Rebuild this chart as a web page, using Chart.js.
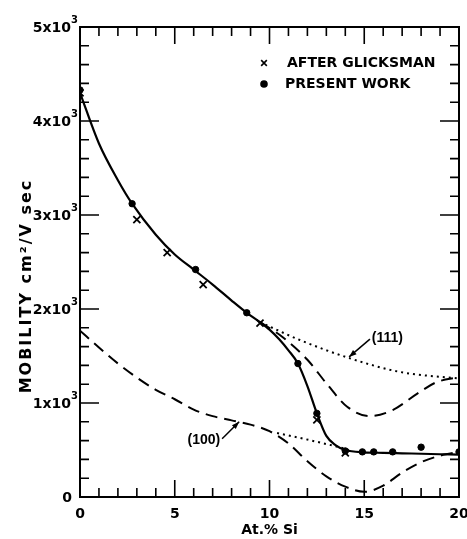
<!DOCTYPE html>
<html>
<head>
<meta charset="utf-8">
<script src="https://cdn.jsdelivr.net/npm/chart.js@4.4.1/dist/chart.umd.min.js"></script>
<style>
  html, body { margin: 0; padding: 0; background: #fff; }
  #wrap { width: 467px; height: 539px; }
</style>
</head>
<body>
<div id="wrap"><canvas id="chart" width="467" height="539"></canvas></div>
<script>
// Dados (At.% Si vs mobilidade)
const glicksmanX = [0, 3.0, 4.6, 6.5, 9.5, 12.5, 14.0];
const glicksmanY = [4300, 2950, 2600, 2260, 1850, 820, 470];

const presenteX = [0, 2.75, 6.1, 8.8, 11.5, 12.5, 14.0, 14.9, 15.5, 16.5, 18.0, 20];
const presenteY = [4330, 3120, 2420, 1960, 1420, 890, 490, 480, 480, 480, 530, 480];

// curva cheia (ajuste)
const ajusteX = [0, 1, 2, 2.75, 4, 5, 6, 7, 8, 8.8, 9.5, 10, 10.5, 11, 11.5, 12, 12.5, 13, 13.5, 14, 15, 16, 17, 18, 19, 20];
const ajusteY = [4300, 3760, 3370, 3120, 2790, 2580, 2420, 2260, 2090, 1960, 1860, 1780, 1680, 1560, 1420, 1180, 890, 650, 550, 500, 475, 470, 465, 460, 455, 450];

// (111) tracejada e pontilhada
const tracejada111X = [9.5, 10.7, 12.0, 13.0, 14.1, 15.3, 16.5, 17.8, 18.8, 20];
const tracejada111Y = [1860, 1700, 1460, 1210, 960, 860, 925, 1100, 1220, 1275];
const pontilhada111X = [9.5, 11.6, 14.25, 16.9, 20];
const pontilhada111Y = [1860, 1670, 1475, 1330, 1260];

// (100) tracejada e pontilhada
const tracejada100X = [0, 1, 2, 3, 4, 5, 6, 7, 8, 9, 10, 11, 12, 13, 14, 15, 16, 17, 18, 19, 20];
const tracejada100Y = [1770, 1590, 1420, 1270, 1140, 1040, 930, 860, 815, 770, 700, 570, 380, 220, 110, 55, 120, 260, 370, 440, 480];
const pontilhada100X = [10.4, 12.1, 13.9];
const pontilhada100Y = [680, 606, 520];

const yTicks = [0, 1000, 2000, 3000, 4000, 5000];
const xTicks = [0, 5, 10, 15, 20];

function pares(xs, ys) {
  return xs.map((x, i) => ({ x: x, y: ys[i] }));
}

const FONTE = "'DejaVu Sans', sans-serif";
const FONTE2 = "'Liberation Sans', Arial, sans-serif";

// Moldura, marcas para dentro, títulos, legenda e rótulos
const extras = {
  id: 'extras',
  afterDraw(chart) {
    const ctx = chart.ctx;
    const a = chart.chartArea;
    const sx = chart.scales.x;
    const sy = chart.scales.y;
    ctx.save();
    ctx.strokeStyle = '#000';
    ctx.fillStyle = '#000';

    // moldura
    ctx.lineWidth = 2;
    ctx.strokeRect(a.left, a.top, a.right - a.left, a.bottom - a.top);

    // marcas do eixo x (a cada 1, maior a cada 5)
    ctx.lineWidth = 1.6;
    for (let v = 0; v <= 20; v++) {
      const px = sx.getPixelForValue(v);
      const L = v % 5 === 0 ? 17 : 9;
      ctx.beginPath();
      ctx.moveTo(px, a.bottom); ctx.lineTo(px, a.bottom - L);
      ctx.moveTo(px, a.top); ctx.lineTo(px, a.top + L);
      ctx.stroke();
    }
    // marcas do eixo y (a cada 200, maior a cada 1000)
    for (let v = 0; v <= 5000; v += 200) {
      const py = sy.getPixelForValue(v);
      const L = v % 1000 === 0 ? 19 : 9;
      ctx.beginPath();
      ctx.moveTo(a.left, py); ctx.lineTo(a.left + L, py);
      ctx.moveTo(a.right, py); ctx.lineTo(a.right - L, py);
      ctx.stroke();
    }

    // rótulos do eixo y com expoente
    ctx.textBaseline = 'alphabetic';
    yTicks.forEach(v => {
      const py = sy.getPixelForValue(v);
      if (v === 0) {
        ctx.font = 'bold 14px ' + FONTE;
        ctx.textAlign = 'right';
        ctx.fillText('0', 72, py + 5);
        return;
      }
      ctx.font = 'bold 10px ' + FONTE;
      ctx.textAlign = 'left';
      ctx.fillText('3', 71, py - 4);
      ctx.font = 'bold 14px ' + FONTE;
      ctx.textAlign = 'right';
      ctx.fillText((v / 1000) + 'x10', 71, py + 5);
    });

    // título do eixo x
    ctx.font = 'bold 14px ' + FONTE;
    ctx.textAlign = 'center';
    ctx.textBaseline = 'middle';
    ctx.fillText('At.% Si', (a.left + a.right) / 2, 530);

    // título do eixo y
    ctx.save();
    ctx.translate(27, 286);
    ctx.rotate(-Math.PI / 2);
    ctx.font = 'bold 16px ' + FONTE;
    ctx.letterSpacing = '2px';
    ctx.fillText('MOBILITY cm\u00B2/V sec', 0, 0);
    ctx.restore();

    // legenda
    ctx.font = 'bold 14px ' + FONTE;
    ctx.textAlign = 'left';
    Chart.helpers.drawPoint(ctx, { pointStyle: 'crossRot', radius: 4, borderWidth: 1.8 }, 264, 63);
    ctx.fillText('AFTER GLICKSMAN', 287, 63);
    Chart.helpers.drawPoint(ctx, { pointStyle: 'circle', radius: 3, borderWidth: 1 }, 264, 84);
    ctx.fill();
    ctx.fillText('PRESENT WORK', 285, 84);

    // rótulos com setas
    function seta(x0, y0, x1, y1) {
      const p0 = [sx.getPixelForValue(x0), sy.getPixelForValue(y0)];
      const p1 = [sx.getPixelForValue(x1), sy.getPixelForValue(y1)];
      ctx.lineWidth = 1.5;
      ctx.beginPath();
      ctx.moveTo(p0[0], p0[1]); ctx.lineTo(p1[0], p1[1]);
      ctx.stroke();
      const ang = Math.atan2(p1[1] - p0[1], p1[0] - p0[0]);
      ctx.beginPath();
      ctx.moveTo(p1[0], p1[1]);
      ctx.lineTo(p1[0] - 8 * Math.cos(ang - 0.35), p1[1] - 8 * Math.sin(ang - 0.35));
      ctx.lineTo(p1[0] - 8 * Math.cos(ang + 0.35), p1[1] - 8 * Math.sin(ang + 0.35));
      ctx.closePath();
      ctx.fill();
    }
    ctx.font = 'bold 14px ' + FONTE2;
    ctx.textAlign = 'left';
    ctx.fillText('(111)', sx.getPixelForValue(15.4), sy.getPixelForValue(1690));
    seta(15.3, 1680, 14.2, 1490);
    ctx.textAlign = 'right';
    ctx.fillText('(100)', sx.getPixelForValue(7.4), sy.getPixelForValue(600));
    seta(7.5, 620, 8.4, 800);

    ctx.restore();
  }
};

const curva = (dados, dash, larg) => ({
  data: dados,
  showLine: true,
  borderColor: '#000',
  borderWidth: larg,
  borderDash: dash,
  pointRadius: 0,
  cubicInterpolationMode: 'monotone',
  fill: false
});

new Chart(document.getElementById('chart'), {
  type: 'scatter',
  data: {
    datasets: [
      {
        label: 'AFTER GLICKSMAN',
        data: pares(glicksmanX, glicksmanY),
        pointStyle: 'crossRot',
        pointRadius: 5,
        borderColor: '#000',
        borderWidth: 1.8
      },
      {
        label: 'PRESENT WORK',
        data: pares(presenteX, presenteY),
        pointStyle: 'circle',
        pointRadius: 3.2,
        backgroundColor: '#000',
        borderColor: '#000',
        borderWidth: 1
      },
      Object.assign({ label: 'ajuste' }, curva(pares(ajusteX, ajusteY), [], 2.2)),
      Object.assign({ label: '(111) tracejada' }, curva(pares(tracejada111X, tracejada111Y), [12, 7], 2)),
      Object.assign({ label: '(111) pontilhada' }, curva(pares(pontilhada111X, pontilhada111Y), [2, 4], 2)),
      Object.assign({ label: '(100) tracejada' }, curva(pares(tracejada100X, tracejada100Y), [12, 7], 2)),
      Object.assign({ label: '(100) pontilhada' }, curva(pares(pontilhada100X, pontilhada100Y), [2, 4], 2))
    ]
  },
  options: {
    responsive: false,
    animation: false,
    layout: { padding: { top: 27, right: 8, left: 0, bottom: 0 } },
    plugins: {
      legend: { display: false },
      tooltip: { enabled: false }
    },
    scales: {
      x: {
        type: 'linear',
        min: 0, max: 20,
        grid: { display: false },
        border: { display: false },
        afterBuildTicks: s => { s.ticks = xTicks.map(v => ({ value: v })); },
        ticks: {
          color: '#000',
          padding: 1,
          maxRotation: 0,
          font: { family: FONTE, size: 14, weight: 'bold' }
        },
        afterFit: s => { s.height = 42; s.paddingLeft = 0; s.paddingRight = 0; }
      },
      y: {
        min: 0, max: 5000,
        grid: { display: false },
        border: { display: false },
        afterBuildTicks: s => { s.ticks = yTicks.map(v => ({ value: v })); },
        ticks: {
          color: 'rgba(0,0,0,0)',
          font: { family: FONTE, size: 14, weight: 'bold' }
        },
        afterFit: s => { s.width = 80; s.paddingTop = 0; s.paddingBottom = 0; }
      }
    }
  },
  plugins: [extras]
});
</script>
</body>
</html>
